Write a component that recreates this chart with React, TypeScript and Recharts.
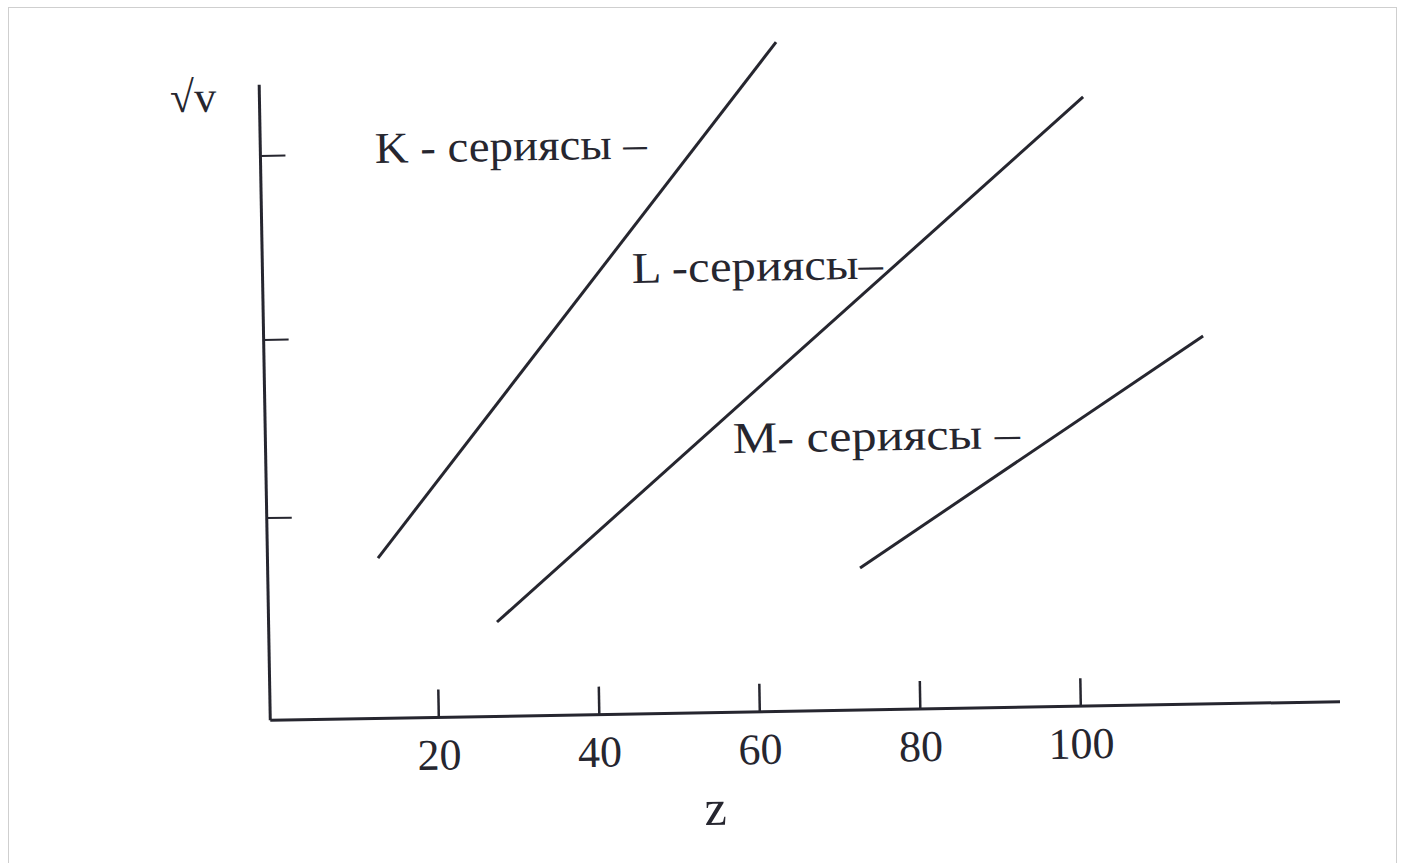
import React from 'react';
import { LineChart, Line, XAxis, YAxis, ReferenceLine } from 'recharts';

// K-, L-, M-series (Moseley): z vs sqrt(v), arbitrary vertical units
const K_Z = [12.77, 63.48];
const K_V = [23.84, 99.5];
const L_Z = [27.46, 101.61];
const L_V = [14.03, 90.55];
const M_Z = [72.8, 116.04];
const M_V = [21.11, 54.71];

const X_TICKS = [20, 40, 60, 80, 100];
const Y_TICKS = [30.07, 56.55, 83.92];
const Y_AXIS_TOP = 94.5;
const X_DOMAIN: [number, number] = [-1, 132.3];
const Y_DOMAIN: [number, number] = [0, 100];

const SERIES_LABELS = ['K - сериясы –', 'L -сериясы–', 'M- сериясы –'];
const X_LABEL = 'z';
const Y_LABEL = '√v';

const toPoints = (zs: number[], vs: number[]) => zs.map((z, i) => ({ z, v: vs[i] }));

const INK = '#26262f';
const FONT = '"Liberation Serif", "DejaVu Serif", serif';

export default function App() {
  const k = toPoints(K_Z, K_V);
  const l = toPoints(L_Z, L_V);
  const m = toPoints(M_Z, M_V);
  return (
    <div style={{ position: 'absolute', left: 0, top: 0, width: 1412, height: 863, background: '#ffffff', overflow: 'hidden' }}>
      <div style={{ position: 'absolute', left: 8, top: 7, width: 1389, height: 860, border: '1px solid #cfcfcf', boxSizing: 'border-box' }} />
      <div style={{ position: 'absolute', left: 0, top: 0, width: 1412, height: 863, transform: 'rotate(-1deg)', transformOrigin: '706px 431.5px' }}>
        <LineChart width={1412} height={863} margin={{ top: 40, right: 76.8, bottom: 50.3, left: 264.3 }}>
          <XAxis
            type="number"
            dataKey="z"
            domain={X_DOMAIN}
            ticks={X_TICKS}
            interval={0}
            allowDataOverflow
            height={100}
            tickSize={-28}
            tickMargin={49}
            axisLine={{ stroke: INK, strokeWidth: 3 }}
            tickLine={{ stroke: INK, strokeWidth: 2.5 }}
            tick={{ fontSize: 44, fill: INK, fontFamily: FONT }}
          />
          <YAxis
            type="number"
            domain={Y_DOMAIN}
            ticks={Y_TICKS}
            allowDataOverflow
            width={1}
            tickSize={-25}
            tickFormatter={() => ''}
            axisLine={false}
            tickLine={{ stroke: INK, strokeWidth: 2 }}
          />
          <ReferenceLine
            segment={[{ x: X_DOMAIN[0], y: 0 }, { x: X_DOMAIN[0], y: Y_AXIS_TOP }]}
            stroke={INK}
            strokeWidth={3}
            ifOverflow="visible"
          />
          <Line data={k} dataKey="v" stroke={INK} strokeWidth={3} dot={false} isAnimationActive={false} />
          <Line data={l} dataKey="v" stroke={INK} strokeWidth={3} dot={false} isAnimationActive={false} />
          <Line data={m} dataKey="v" stroke={INK} strokeWidth={3} dot={false} isAnimationActive={false} />
        </LineChart>
        <svg width={1412} height={863} style={{ position: 'absolute', left: 0, top: 0, pointerEvents: 'none' }}>
          <g fontFamily={FONT} fill={INK} fontSize={44}>
            <text x={379.7} y={157.3} textLength={272} lengthAdjust="spacingAndGlyphs">{SERIES_LABELS[0]}</text>
            <text x={634.6} y={281.7} textLength={251} lengthAdjust="spacingAndGlyphs">{SERIES_LABELS[1]}</text>
            <text x={732.6} y={453.5} textLength={287} lengthAdjust="spacingAndGlyphs">{SERIES_LABELS[2]}</text>
            <text x={709} y={825} textAnchor="middle" fontSize={50}>{X_LABEL}</text>
            <text x={176} y={103} fontSize={44}>{Y_LABEL}</text>
          </g>
        </svg>
      </div>
    </div>
  );
}
